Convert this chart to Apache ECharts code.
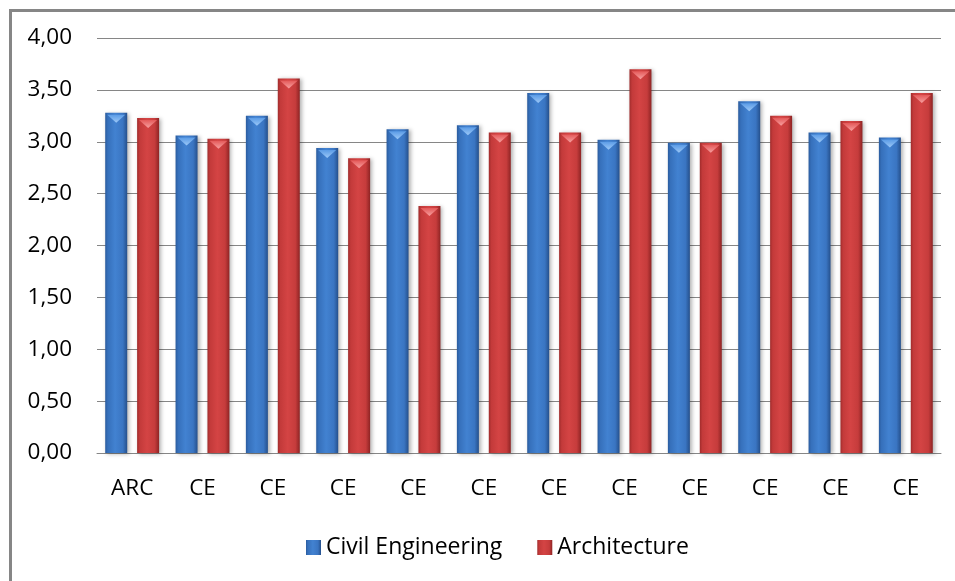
<!DOCTYPE html>
<html>
<head>
<meta charset="utf-8">
<script src="https://cdn.jsdelivr.net/npm/echarts@6/dist/echarts.min.js"></script>
<style>html,body{margin:0;padding:0;background:#fff;}#c{width:955px;height:581px;}</style>
</head>
<body>
<div id="c"></div>
<script>
var categories = ['ARC','CE','CE','CE','CE','CE','CE','CE','CE','CE','CE','CE'];
var civilEngineering = [3.28,3.06,3.25,2.94,3.12,3.16,3.47,3.02,2.99,3.39,3.09,3.04];
var architecture = [3.23,3.03,3.61,2.84,2.38,3.09,3.09,3.70,2.99,3.25,3.20,3.47];
var yTicks = {min: 0, max: 4, interval: 0.5};

function hGrad(stops){
  return new echarts.graphic.LinearGradient(0,0,1,0, stops.map(function(s){return {offset:s[0], color:s[1]};}));
}
var blueFill = hGrad([[0,'#2b5c9e'],[0.12,'#3670bb'],[0.45,'#4282d1'],[0.8,'#3a75c2'],[1,'#25508c']]);
var redFill = hGrad([[0,'#a02c2c'],[0.12,'#c33a3a'],[0.45,'#d44444'],[0.8,'#c63c3c'],[1,'#8e2424']]);
var blueCap = new echarts.graphic.LinearGradient(0,0,0,1,[{offset:0,color:'#9cc8f7'},{offset:1,color:'#5a9be6'}]);
var redCap = new echarts.graphic.LinearGradient(0,0,0,1,[{offset:0,color:'#f7a0a0'},{offset:1,color:'#e45858'}]);

var chart = echarts.init(document.getElementById('c'));
var fontFam = 'Open Sans';
chart.setOption({
  animation: false,
  backgroundColor: '#ffffff',
  graphic: [{
    type: 'rect', left: 8, top: 8, z: 100, silent: true,
    shape: {x: 0, y: 0, width: 1000, height: 700},
    style: {fill: 'none', stroke: '#868686', lineWidth: 3}
  }],
  grid: {left: 97, right: 14, top: 38, bottom: 128},
  legend: {
    data: ['Civil Engineering','Architecture'],
    left: 301, top: 531,
    itemWidth: 15, itemHeight: 15, itemGap: 35,
    icon: 'rect',
    textStyle: {fontFamily: fontFam, fontSize: 23, color: '#000'}
  },
  xAxis: {
    type: 'category', data: categories,
    axisTick: {show: false},
    axisLine: {lineStyle: {color: '#868686', width: 1}},
    axisLabel: {margin: 24, fontFamily: fontFam, fontSize: 22.5, color: '#000'}
  },
  yAxis: {
    type: 'value', min: yTicks.min, max: yTicks.max, interval: yTicks.interval,
    axisLine: {show: false}, axisTick: {show: false},
    splitLine: {lineStyle: {color: '#868686', width: 1}},
    axisLabel: {margin: 25, fontFamily: fontFam, fontSize: 22.5, color: '#000',
      formatter: function(v){ return v.toFixed(2).replace('.', ','); }}
  },
  series: [
    {name: 'Civil Engineering', type: 'bar', data: civilEngineering, barWidth: 22, barGap: '45%',
     itemStyle: {color: blueFill, shadowBlur: 4, shadowColor: 'rgba(0,0,0,0.3)', shadowOffsetX: 2, shadowOffsetY: 1}},
    {name: 'Architecture', type: 'bar', data: architecture, barWidth: 22, barGap: '45%',
     itemStyle: {color: redFill, shadowBlur: 4, shadowColor: 'rgba(0,0,0,0.3)', shadowOffsetX: 2, shadowOffsetY: 1}},
    {name: 'capCE', type: 'pictorialBar', data: civilEngineering, barWidth: 22, barGap: '45%', z: 5,
     symbol: 'triangle', symbolRotate: 180, symbolSize: [18, 8], symbolPosition: 'end', symbolOffset: [0, 2],
     itemStyle: {color: blueCap}},
    {name: 'capAR', type: 'pictorialBar', data: architecture, barWidth: 22, barGap: '45%', z: 5,
     symbol: 'triangle', symbolRotate: 180, symbolSize: [18, 8], symbolPosition: 'end', symbolOffset: [0, 2],
     itemStyle: {color: redCap}}
  ]
});
</script>
</body>
</html>
